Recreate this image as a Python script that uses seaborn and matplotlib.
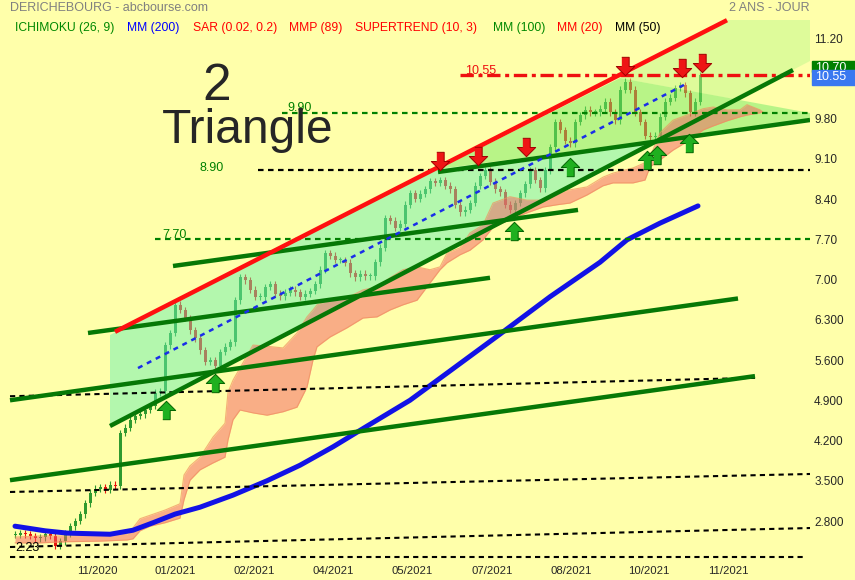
import numpy as np
import matplotlib
matplotlib.use("Agg")
import matplotlib.pyplot as plt
from matplotlib.patches import Polygon, Rectangle
import seaborn as sns

# closing prices, one reading every two sessions from day 2
closes = [2.56, 2.59, 2.57, 2.54, 2.50, 2.52, 2.57, 2.54, 2.37, 2.45,
          2.59, 2.71, 2.80, 2.92, 3.11, 3.29, 3.36, 3.39, 3.34, 3.43,
          3.41, 4.33, 4.42, 4.56, 4.63, 4.66, 4.73, 4.80, 5.03, 5.06,
          5.86, 6.07, 6.56, 6.47, 6.33, 6.12, 5.98, 5.77, 5.57, 5.60,
          5.50, 5.74, 5.83, 5.91, 6.64, 7.04, 6.99, 6.82, 6.70, 6.70,
          6.87, 6.92, 6.75, 6.71, 6.77, 6.82, 6.78, 6.70, 6.75, 6.80,
          6.92, 7.17, 7.46, 7.41, 7.34, 7.34, 7.29, 7.11, 7.04, 7.10,
          7.06, 7.06, 7.30, 7.55, 8.07, 8.02, 7.90, 7.97, 8.30, 8.50,
          8.40, 8.49, 8.57, 8.71, 8.68, 8.73, 8.63, 8.57, 8.30, 8.17,
          8.21, 8.33, 8.63, 8.80, 8.90, 8.70, 8.57, 8.52, 8.30, 8.21,
          8.33, 8.50, 8.66, 8.90, 8.73, 8.59, 8.90, 9.30, 9.74, 9.60,
          9.41, 9.37, 9.74, 9.86, 9.95, 9.91, 9.91, 9.97, 10.09, 9.91,
          9.77, 10.30, 10.44, 10.30, 9.91, 9.74, 9.50, 9.48, 9.50, 9.83,
          10.09, 10.16, 10.33, 10.38, 10.24, 9.91, 10.09, 10.55]
days = np.arange(2, 2 + 2 * len(closes), 2)

# MM (200)
mm200_days = [2, 14, 22.8, 40, 49.2, 57.2, 66, 76, 89.2, 102.8, 116, 129.2,
              142.8, 160, 176, 196, 216, 236, 246.8, 260, 275.2]
mm200_vals = [2.71, 2.63, 2.59, 2.57, 2.64, 2.77, 2.92, 3.04, 3.25, 3.50, 3.77,
              4.09, 4.45, 4.90, 5.41, 6.05, 6.70, 7.30, 7.69, 7.98, 8.28]

# ichimoku cloud
cloud_days = [2, 12, 22.8, 36, 46.8, 49.2, 52, 56, 62, 68, 69.6, 72, 76, 81.2,
              86, 87.2, 89.2, 92, 97.2, 102.8, 109.2, 114.8, 118.8, 121.2,
              122.8, 128, 134.8, 141.2, 146.8, 152, 157.2, 162.8, 168, 172,
              174.8, 180, 184, 189.2, 193.2, 200, 206.8, 213.2, 218.8, 224,
              230.8, 237.2, 241.2, 249.2, 254, 256, 260, 265.2, 273.2, 277.2,
              281.2, 286.8, 292, 294.8, 300, 301.2]
cloud_top = [2.52, 2.54, 2.54, 2.56, 2.57, 2.68, 2.84, 2.90, 2.99, 3.10, 3.60,
             3.76, 3.91, 4.26, 4.50, 5.04, 5.25, 5.46, 5.86, 5.84, 5.81, 6.07,
             6.35, 6.47, 6.56, 6.64, 6.68, 6.82, 6.87, 7.03, 7.17, 7.22, 7.17,
             7.22, 7.46, 7.55, 7.81, 7.95, 8.33, 8.44, 8.38, 8.38, 8.50, 8.56,
             8.61, 8.78, 8.85, 8.94, 9.03, 9.13, 9.55, 9.77, 9.90, 9.97, 10.00,
             9.95, 9.95, 10.04, 9.95, 9.91]
cloud_bot = [2.42, 2.42, 2.44, 2.45, 2.47, 2.49, 2.63, 2.71, 2.77, 2.85, 3.17,
             3.51, 3.69, 3.81, 3.91, 4.21, 4.56, 4.73, 4.68, 4.64, 4.70, 4.78,
             5.13, 5.60, 5.83, 6.00, 6.16, 6.33, 6.35, 6.47, 6.56, 6.64, 6.94,
             7.17, 7.29, 7.43, 7.51, 7.69, 7.91, 8.04, 8.16, 8.26, 8.30, 8.33,
             8.47, 8.63, 8.68, 8.68, 8.73, 8.96, 9.08, 9.25, 9.46, 9.60, 9.67,
             9.76, 9.83, 9.86, 9.90, 9.91]

# drawn lines (start day, start price, end day, end price)
red_line = (42, 6.09, 286.8, 11.51)
green_lines = [(0, 3.51, 298, 5.32), (0, 4.90, 291.2, 6.67),
               (31.2, 6.07, 192, 7.03), (65.2, 7.235, 227.2, 8.21),
               (171.2, 8.87, 320, 9.774), (40, 4.452, 313.2, 10.644)]
black_dashed = [(0, 4.97, 298, 5.29), (0, 3.305, 320, 3.618),
                (0, 2.348, 320, 2.678), (0, 2.174, 318, 2.174)]
mid_line = (51.2, 5.46, 271.2, 10.42)

# horizontal levels (price, first day)
level_red = (10.55, 180)
levels_green = [(9.90, 108.8), (7.70, 58)]
level_black = (8.90, 99.2)

# channel shading
fill_yellow = [(244, 10.504), (286.8, 11.513), (320, 11.513), (320, 10.80), (290.4, 10.13)]
fill_upper = [(171.2, 8.92), (244, 10.504), (320, 9.896), (320, 9.774)]
fill_lower = [(40, 6.035), (171.2, 8.92), (258.4, 9.40), (40, 4.452)]

# signal arrows
sell_days = [172, 187.2, 206.4, 246, 268.8, 276.8]
sell_prices = [9.06, 9.15, 9.30, 10.71, 10.68, 10.77]
buy_days = [62.4, 82, 201.6, 224, 254.8, 258.8, 271.6]
buy_prices = [4.73, 5.20, 7.84, 8.96, 9.08, 9.165, 9.37]

tick_days = [34.8, 66, 97.6, 129.2, 160.8, 192.8, 224.4, 255.6, 287.2]
tick_labels = ["11/2020", "01/2021", "02/2021", "04/2021", "05/2021",
               "07/2021", "08/2021", "10/2021", "11/2021"]
price_ticks = [11.20, 9.80, 9.10, 8.40, 7.70, 7.00, 6.30, 5.60, 4.90, 4.20, 3.50, 2.80]
price_labels = ["11.20", "9.80", "9.10", "8.40", "7.70", "7.00", "6.300",
                "5.600", "4.900", "4.200", "3.500", "2.800"]

BG = "#ffffaa"
sns.set_style("white")
plt.rcParams["font.family"] = ["Liberation Sans", "DejaVu Sans"]

fig = plt.figure(figsize=(8.55, 5.8), dpi=100, facecolor=BG)
ax = fig.add_axes([0, 20 / 580, 810 / 855, 560 / 580])
ax.set_facecolor(BG)
ax.set_xlim(-4, 320)
ax.set_ylim(2.122, 11.861)
for s in ax.spines.values():
    s.set_visible(False)

# candles
opens = [closes[0]] + closes[:-1]
up_col, down_col = "#2f9a2f", "#e8120c"
for d, o, c in zip(days, opens, closes):
    col = up_col if c >= o else down_col
    lo, hi = min(o, c), max(o, c)
    ax.vlines(d, lo - 0.06, hi + 0.06, color=col, lw=0.8, zorder=2)
    ax.bar(d, max(hi - lo, 0.02), bottom=lo, width=1.2, color=col, lw=0, zorder=2)

# shaded channel
ax.add_patch(Polygon(fill_yellow, closed=True, fc=(190/255, 248/255, 140/255), alpha=0.5, lw=0, zorder=3))
ax.add_patch(Polygon(fill_upper, closed=True, fc=(115/255, 235/255, 102/255), alpha=0.5, lw=0, zorder=3))
ax.add_patch(Polygon(fill_lower, closed=True, fc=(105/255, 241/255, 176/255), alpha=0.5, lw=0, zorder=3))

# ichimoku cloud
ax.fill_between(cloud_days, cloud_bot, cloud_top, color=(245/255, 95/255, 100/255),
                alpha=0.5, lw=0, zorder=3.5)
ax.plot(cloud_days, cloud_top, color="#f09060", lw=0.8, alpha=0.7, zorder=3.6)
ax.plot(cloud_days, cloud_bot, color="#f09060", lw=0.8, alpha=0.7, zorder=3.6)

# MM 200
sns.lineplot(x=mm200_days, y=mm200_vals, ax=ax, color="#1212e6", lw=3.6, zorder=4)

# horizontal levels
ax.hlines(level_black[0], level_black[1], 320, color="black", lw=1.6,
          linestyles=(0, (2.5, 2)), zorder=4.5)
for lv, start in levels_green:
    ax.hlines(lv, start, 320, color="#008000", lw=1.6, linestyles=(0, (2.5, 2)), zorder=4.5)
ax.hlines(level_red[0], level_red[1], 320, color="#ee1010", lw=2.4,
          linestyles=(0, (4, 1.4, 1.2, 1.4)), zorder=4.5)
for x0, y0, x1, y1 in black_dashed:
    ax.plot([x0, x1], [y0, y1], color="black", lw=1.5, ls=(0, (2.5, 2)), zorder=4.5)

# trend lines
for x0, y0, x1, y1 in green_lines:
    ax.plot([x0, x1], [y0, y1], color="#067806", lw=3.2, solid_capstyle="butt", zorder=5)
ax.plot([red_line[0], red_line[2]], [red_line[1], red_line[3]], color="#ff1010",
        lw=3.2, solid_capstyle="butt", zorder=5)
ax.plot([mid_line[0], mid_line[2]], [mid_line[1], mid_line[3]], color="#1a2ee8",
        lw=1.8, ls=(0, (2, 2)), zorder=5)

# arrows
up_arrow = [(-0.4, -1), (0.4, -1), (0.4, 0), (1, 0), (0, 1), (-1, 0), (-0.4, 0)]
down_arrow = [(x, -y) for x, y in up_arrow]
ax.scatter(sell_days, sell_prices, marker=down_arrow, s=175, c="#ee1515",
           edgecolors="#a00000", linewidths=0.7, zorder=6)
ax.scatter(buy_days, buy_prices, marker=up_arrow, s=175, c="#1fb01f",
           edgecolors="#006400", linewidths=0.7, zorder=6)

# level labels
ax.text(182, 10.63, "10.55", color="#ee1010", fontsize=9, va="center", zorder=7)
ax.text(110.8, 9.98, "9.90", color="#008000", fontsize=9, va="center", zorder=7)
ax.text(76, 8.94, "8.90", color="#008000", fontsize=9, va="center", zorder=7)
ax.text(60.8, 7.77, "7.70", color="#008000", fontsize=9, va="center", zorder=7)
ax.text(2, 2.33, "2.23", color="black", fontsize=9, va="center", zorder=7)

# axes
ax.set_xticks(tick_days)
ax.set_xticklabels(tick_labels)
ax.yaxis.tick_right()
ax.set_yticks(price_ticks)
ax.set_yticklabels(price_labels)
ax.tick_params(axis="x", length=0, pad=4, labelsize=8.2)
ax.tick_params(axis="y", length=0, pad=3, labelsize=8.5)
ax.grid(False)

# price boxes on the right
fig.patches.append(Rectangle((812 / 855, (580 - 72) / 580), 43 / 855, 11 / 580,
                             transform=fig.transFigure, color="#008000", zorder=8))
fig.text(815 / 855, 1 - 68 / 580, "10.70", color="white", fontsize=9, va="center", zorder=9)
fig.patches.append(Rectangle((812 / 855, (580 - 85) / 580), 43 / 855, 15 / 580,
                             transform=fig.transFigure, color="#3a78f0", zorder=10))
fig.text(815 / 855, 1 - 77.5 / 580, "10.55", color="white", fontsize=9, va="center", zorder=11)

# header
fig.text(10 / 855, 1 - 8 / 580, "DERICHEBOURG - abcbourse.com", color="#808080",
         fontsize=9, va="center")
fig.text(810 / 855, 1 - 8 / 580, "2 ANS - JOUR", color="#808080", fontsize=9,
         va="center", ha="right")
legend_items = [("ICHIMOKU (26, 9)", "#008800", 15), ("MM (200)", "#0000ff", 127),
                ("SAR (0.02, 0.2)", "#ff0000", 193), ("MMP (89)", "#ff0000", 289),
                ("SUPERTREND (10, 3)", "#ff0000", 355), ("MM (100)", "#008800", 493),
                ("MM (20)", "#ff0000", 557), ("MM (50)", "#000000", 615)]
for txt, col, xp in legend_items:
    fig.text(xp / 855, 1 - 28 / 580, txt, color=col, fontsize=8.7, va="center")

fig.text(217 / 855, 1 - 100 / 580, "2", fontsize=37, ha="center", va="baseline")
fig.text(162 / 855, 1 - 143 / 580, "Triangle", fontsize=34.5, ha="left", va="baseline")

fig.savefig("out.png", dpi=100, facecolor=BG)
